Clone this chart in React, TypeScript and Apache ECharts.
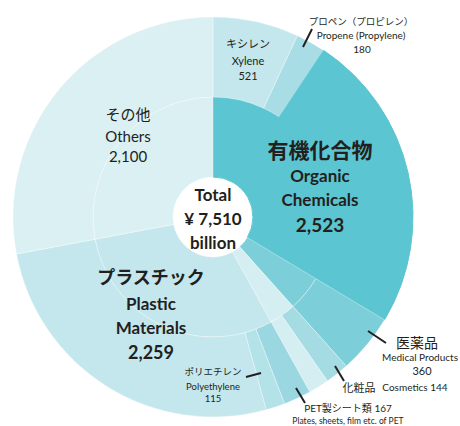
import React, { useEffect, useRef } from 'react';
import * as echarts from 'echarts';

// Inner ring (categories), clockwise from 12 o'clock
const innerNames = ['有機化合物', '医薬品', '化粧品ほか', 'プラスチック', 'その他'];
const innerValues = [2523, 360, 268, 2259, 2100];
const innerColors = ['#5bc5d1', '#7ccfd9', '#d4eef2', '#c4e7ed', '#daf0f3'];

// Outer ring (items), clockwise from 12 o'clock
const outerNames = ['キシレン', 'プロペン（プロピレン）', '有機化合物（その他）', '医薬品', '化粧品', 'その他ファイン', 'PET製シート類', 'ポリエチレン', 'プラスチック（その他）', 'その他'];
const outerValues = [521, 180, 1822, 360, 144, 124, 167, 115, 1977, 2100];
const outerColors = ['#c4e7ed', '#a9dde5', '#5bc5d1', '#7ccfd9', '#a5dbe3', '#d4eef2', '#9bd7e0', '#b3e2e8', '#c4e7ed', '#daf0f3'];

const totalValue = 7510;

const FONT = 'Lato, "Noto Sans CJK JP", sans-serif';
const INK = '#231f20';

const fmt = (v: number) => v.toLocaleString('en-US');

function txt(x: number, y: number, text: string, size: number, bold = false) {
  return {
    type: 'text',
    x,
    y,
    z: 100,
    silent: true,
    style: {
      text,
      fill: INK,
      fontSize: size,
      fontWeight: bold ? 'bold' : 'normal',
      fontFamily: FONT,
      textAlign: 'center',
      textVerticalAlign: 'middle',
    },
  };
}

function lead(x1: number, y1: number, x2: number, y2: number) {
  return {
    type: 'line',
    z: 100,
    silent: true,
    shape: { x1, y1, x2, y2 },
    style: { stroke: INK, lineWidth: 2 },
  };
}

export default function App() {
  const ref = useRef<HTMLDivElement>(null);
  useEffect(() => {
    if (!ref.current) return;
    const chart = echarts.init(ref.current, undefined, { renderer: 'svg' });
    const mk = (names: string[], values: number[], colors: string[], organicIdx: number) =>
      values.map((v, i) => ({
        name: names[i],
        value: v,
        itemStyle: {
          color: colors[i],
          borderWidth: i === organicIdx ? 1 : 0.6,
          borderColor: i === organicIdx ? colors[i] : 'rgba(255,255,255,0.55)',
        },
      }));
    const common = {
      type: 'pie',
      center: [213, 217],
      startAngle: 90,
      clockwise: true,
      silent: true,
      avoidLabelOverlap: false,
      label: { show: false },
      labelLine: { show: false },
      emphasis: { disabled: true },
    };
    chart.setOption({
      animation: false,
      backgroundColor: '#ffffff',
      series: [
        { ...common, z: 2, radius: [40, 120], data: mk(innerNames, innerValues, innerColors, 0) },
        { ...common, z: 3, radius: [120, 200], data: mk(outerNames, outerValues, outerColors, 2) },
      ],
      graphic: {
        elements: [
          // center
          txt(213, 194, 'Total', 17, true),
          txt(213, 218, '¥ ' + fmt(totalValue), 17, true),
          txt(213, 242, 'billion', 17, true),
          // organic
          txt(320, 149, innerNames[0], 21, true),
          txt(320, 175, 'Organic', 17, true),
          txt(320, 199, 'Chemicals', 17, true),
          txt(320, 224, fmt(innerValues[0]), 19, true),
          // plastic
          txt(151, 277, innerNames[3], 18, true),
          txt(151, 303, 'Plastic', 17, true),
          txt(151, 327, 'Materials', 17, true),
          txt(151, 352, fmt(innerValues[3]), 18, true),
          // others
          txt(128, 114, innerNames[4], 15),
          txt(128, 136, 'Others', 15),
          txt(128, 156, fmt(innerValues[4]), 15),
          // xylene
          txt(248, 43, outerNames[0], 11),
          txt(248, 60, 'Xylene', 11),
          txt(248, 75, fmt(outerValues[0]), 11),
          // propene
          txt(361, 21, outerNames[1], 9.5),
          txt(361, 35, 'Propene (Propylene)', 10),
          txt(362, 49, fmt(outerValues[1]), 10),
          lead(303, 47, 312, 29),
          // medical
          txt(417, 342, outerNames[3], 14),
          txt(420, 357, 'Medical Products', 10),
          txt(422, 370, fmt(outerValues[3]), 11),
          lead(368, 331, 386, 343),
          // cosmetics
          txt(359, 387, outerNames[4], 11),
          txt(415, 387, 'Cosmetics ' + fmt(outerValues[4]), 10),
          lead(335, 366, 344, 381),
          // PET
          txt(348, 408, outerNames[6] + ' ' + fmt(outerValues[6]), 10),
          txt(348, 421, 'Plates, sheets, film etc. of PET', 8.5),
          lead(296, 388, 305, 403),
          // polyethylene
          txt(213, 371, outerNames[7], 9.5),
          txt(213, 386, 'Polyethylene', 9.5),
          txt(213, 398, fmt(outerValues[7]), 9.5),
          lead(246, 377, 261, 373),
        ],
      },
    });
    return () => chart.dispose();
  }, []);
  return (
    <div
      ref={ref}
      style={{ position: 'absolute', left: 0, top: 0, width: 460, height: 426 }}
    />
  );
}
